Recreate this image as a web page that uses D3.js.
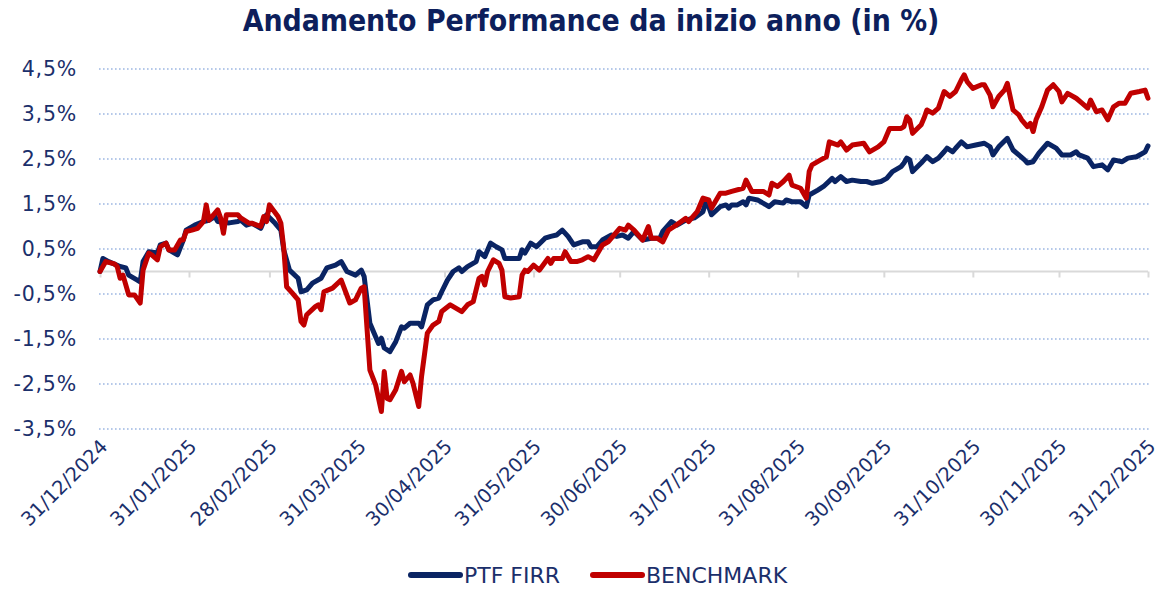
<!DOCTYPE html>
<html><head><meta charset="utf-8">
<script src="https://cdn.jsdelivr.net/npm/d3@7"></script>
<style>
html,body{margin:0;padding:0;background:#fff;}
svg{display:block;}
</style></head>
<body>
<svg id="chart" width="1161" height="590"></svg>
<script>
// ---- DATA ----
const titolo = "Andamento Performance da inizio anno (in %)";
const serieNomi = ["PTF FIRR", "BENCHMARK"];
const tickDate = ["31/12/2024","31/01/2025","28/02/2025","31/03/2025","30/04/2025","31/05/2025","30/06/2025","31/07/2025","31/08/2025","30/09/2025","31/10/2025","30/11/2025","31/12/2025"];
const yTicks = [4.5, 3.5, 2.5, 1.5, 0.5, -0.5, -1.5, -2.5, -3.5];
// days elapsed since 31/12/2024
const ptfGiorni = [0,1,3,7,9,10,13,14,15,17,20,21,23,24,27,29,30,33,36,38,40,41,45,48,49,51,53,56,57,58,61,63,64,66,69,70,72,74,77,79,82,84,86,89,91,92,94,96,97,98,99,101,103,105,106,108,111,112,114,116,118,119,121,123,125,126,128,131,132,134,136,138,140,141,146,147,148,150,152,155,157,159,161,163,165,168,170,171,173,175,178,180,182,184,186,189,192,195,196,199,201,204,207,210,211,212,213,216,218,219,220,222,224,225,226,229,232,233,235,238,239,241,244,246,247,250,252,255,256,258,260,262,265,267,269,272,274,276,279,280,281,282,283,286,287,288,290,292,294,295,297,298,300,302,305,308,310,311,313,316,318,320,322,323,325,327,330,333,335,338,340,341,344,346,349,351,353,356,358,361,364,365];
const ptfValori = [0,0.29,0.22,0.11,0.08,-0.08,-0.19,-0.23,0.22,0.44,0.41,0.59,0.63,0.48,0.37,0.70,0.92,1.03,1.11,1.14,1.22,1.11,1.08,1.11,1.14,1.03,1.07,0.96,1.11,1.26,1.07,0.92,0.48,0.03,-0.15,-0.45,-0.41,-0.26,-0.15,0.08,0.14,0.22,0,-0.08,0.03,-0.11,-1.15,-1.45,-1.6,-1.48,-1.7,-1.78,-1.56,-1.23,-1.26,-1.15,-1.15,-1.23,-0.74,-0.63,-0.59,-0.45,-0.19,0,0.08,0,0.11,0.22,0.44,0.33,0.63,0.55,0.48,0.29,0.29,0.48,0.41,0.63,0.55,0.74,0.78,0.81,0.92,0.78,0.59,0.66,0.66,0.55,0.55,0.70,0.81,0.78,0.81,0.74,0.89,0.70,0.74,0.74,0.89,1.11,1.03,1.14,1.19,1.33,1.55,1.44,1.26,1.44,1.48,1.41,1.48,1.48,1.55,1.48,1.63,1.59,1.48,1.44,1.55,1.52,1.59,1.55,1.55,1.44,1.70,1.81,1.89,2.07,2.0,2.11,2.0,2.03,2.0,2.0,1.96,2.0,2.07,2.22,2.33,2.41,2.52,2.48,2.22,2.41,2.48,2.55,2.44,2.52,2.66,2.74,2.66,2.74,2.88,2.77,2.81,2.85,2.77,2.59,2.77,2.96,2.70,2.59,2.48,2.41,2.44,2.63,2.85,2.74,2.59,2.59,2.66,2.59,2.52,2.33,2.37,2.26,2.48,2.44,2.52,2.55,2.66,2.79];
const bmkGiorni = [0,2,5,6,7,8,10,12,14,15,17,18,20,21,23,24,26,28,29,30,32,34,36,37,38,41,42,43,44,48,49,52,53,56,57,58,59,62,63,64,65,67,69,70,71,72,75,76,77,78,81,84,87,89,91,92,94,96,98,99,100,101,103,105,106,108,109,111,112,114,116,118,119,122,126,128,130,131,132,133,134,135,137,139,140,141,143,146,147,148,149,151,153,156,157,158,161,162,164,166,168,170,172,173,175,177,179,181,183,184,186,189,191,192,194,196,198,200,204,205,208,210,212,213,216,218,220,224,225,227,231,233,234,236,238,240,241,244,246,247,248,251,253,254,257,258,260,262,266,268,271,273,275,279,280,281,282,283,286,287,288,290,292,294,296,298,300,301,302,304,307,308,310,311,313,315,316,318,320,321,323,324,325,326,328,330,332,334,335,337,340,342,344,345,347,349,351,353,355,357,359,362,364,365];
const bmkValori = [0,0.22,0.17,0.11,-0.15,-0.08,-0.52,-0.52,-0.70,0.03,0.41,0.37,0.26,0.55,0.63,0.48,0.48,0.70,0.70,0.89,0.92,0.96,1.11,1.48,1.14,1.37,1.19,0.85,1.26,1.26,1.19,1.07,1.07,1.0,1.22,1.11,1.48,1.22,1.07,0.52,-0.34,-0.48,-0.63,-1.11,-1.19,-0.96,-0.78,-0.74,-0.85,-0.45,-0.37,-0.19,-0.70,-0.63,-0.37,-0.34,-2.19,-2.52,-3.11,-2.22,-2.82,-2.85,-2.63,-2.22,-2.45,-2.30,-2.48,-3.0,-2.33,-1.37,-1.19,-1.11,-0.89,-0.74,-0.89,-0.74,-0.67,-0.41,-0.15,-0.11,-0.30,0,0.26,0.18,0.03,-0.56,-0.59,-0.56,-0.08,0.03,0,0.14,0.03,0.29,0.18,0.29,0.29,0.44,0.22,0.22,0.26,0.33,0.26,0.37,0.59,0.66,0.81,0.96,0.92,1.03,0.92,0.70,1.0,0.74,0.74,0.66,0.92,1.0,1.18,1.11,1.33,1.63,1.59,1.41,1.74,1.74,1.78,1.85,2.03,1.78,1.78,1.70,1.96,1.89,2.0,2.14,1.92,1.85,1.63,2.22,2.37,2.48,2.55,2.88,2.81,2.88,2.70,2.81,2.85,2.66,2.77,2.88,3.18,3.18,3.22,3.44,3.37,3.07,3.26,3.41,3.59,3.52,3.63,4.0,3.89,4.0,4.26,4.37,4.22,4.07,4.15,4.15,3.92,3.66,3.89,4.03,4.18,3.59,3.48,3.37,3.22,3.29,3.11,3.37,3.66,4.03,4.15,4.0,3.77,3.96,3.85,3.74,3.63,3.81,3.55,3.59,3.37,3.66,3.74,3.74,3.96,4.0,4.03,3.85];

// ---- CHART ----
const navyText = "#1B2F6B";
const colors = ["#0A2463", "#C00000"];
const svg = d3.select("#chart");
const parse = d3.timeParse("%d/%m/%Y");
const start = parse("31/12/2024");
const end = parse("31/12/2025");
const x = d3.scaleTime().domain([start, end]).range([100, 1148]);
const y = d3.scaleLinear().domain([-3.5, 4.5]).range([429, 69]);

const fmt = v => (v.toFixed(1).replace(".", ",")) + "%";

// gridlines
svg.append("g").selectAll("line").data(yTicks).join("line")
  .attr("x1", 99).attr("x2", 1150)
  .attr("y1", d => y(d)).attr("y2", d => y(d))
  .attr("stroke", "#9DB7E2").attr("stroke-width", 1.3)
  .attr("stroke-dasharray", "1.6,2.4");

// y labels
svg.append("g").selectAll("text").data(yTicks).join("text")
  .attr("x", 77).attr("y", d => y(d)).attr("dy", "0.36em")
  .attr("text-anchor", "end")
  .attr("font-family", "DejaVu Sans, Verdana, sans-serif")
  .attr("font-size", 20.5).attr("letter-spacing", "0.8px").attr("fill", navyText)
  .text(fmt);

// zero axis with ticks
const tickDates = tickDate.map(parse);
const xAxis = d3.axisBottom(x).tickValues(tickDates).tickSize(6).tickFormat("");
const gx = svg.append("g").attr("transform", `translate(0,${y(0)})`).call(xAxis);
gx.select(".domain").attr("stroke", "#D9D9D9").attr("stroke-width", 2).attr("d", `M${x(start)},0H${x(end)}`);
gx.selectAll(".tick line").attr("stroke", "#D9D9D9").attr("stroke-width", 2);

// x labels, rotated, at bottom
svg.append("g").selectAll("text").data(tickDates).join("text")
  .attr("transform", d => `translate(${x(d) + 4},${443}) rotate(-45)`)
  .attr("text-anchor", "end")
  .attr("dy", "0.35em")
  .attr("font-family", "DejaVu Sans, Verdana, sans-serif")
  .attr("font-size", 19.5).attr("fill", navyText)
  .text((d, i) => tickDate[i]);

// lines
const line = d3.line().x(d => x(d.date)).y(d => y(d.v));
const mk = (g, v) => g.map((d, i) => ({ date: d3.timeDay.offset(start, d), v: v[i] }));
const series = [mk(ptfGiorni, ptfValori), mk(bmkGiorni, bmkValori)];
svg.append("g").selectAll("path").data(series).join("path")
  .attr("d", line)
  .attr("fill", "none")
  .attr("stroke", (d, i) => colors[i])
  .attr("stroke-width", 5)
  .attr("stroke-linejoin", "round")
  .attr("stroke-linecap", "round");

// title
const t = svg.append("text")
  .attr("x", 591).attr("y", 31)
  .attr("text-anchor", "middle")
  .attr("font-family", "DejaVu Sans Condensed, DejaVu Sans, sans-serif")
  .attr("font-weight", "bold")
  .attr("font-size", 26).attr("fill", "#0D1F5C")
  .text(titolo);
const tw = t.node().getComputedTextLength();
t.attr("font-size", 26 * 697 / tw);

// legend
const legX = [408, 590];
const lg = svg.append("g");
serieNomi.forEach((n, i) => {
  lg.append("line").attr("x1", legX[i] + 3).attr("x2", legX[i] + 52)
    .attr("y1", 575).attr("y2", 575)
    .attr("stroke", colors[i]).attr("stroke-width", 6).attr("stroke-linecap", "round");
  lg.append("text").attr("x", legX[i] + 56).attr("y", 575).attr("dy", "0.36em")
    .attr("font-family", "DejaVu Sans, Verdana, sans-serif")
    .attr("font-size", 22).attr("fill", navyText).text(n);
});
</script>
</body></html>
